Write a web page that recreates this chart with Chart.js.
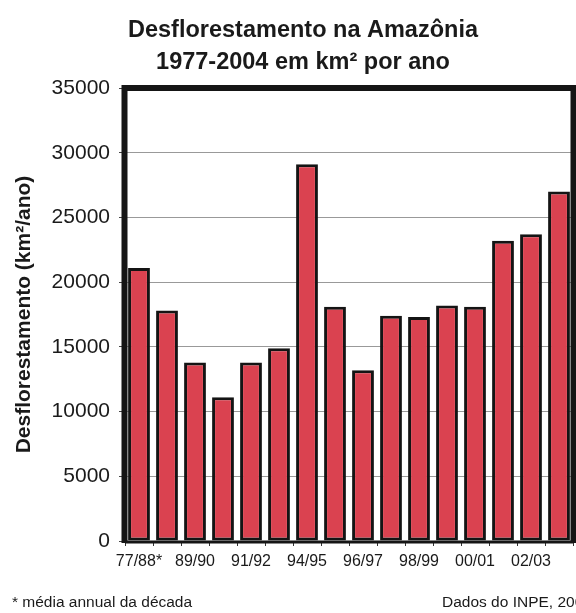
<!DOCTYPE html>
<html>
<head>
<meta charset="utf-8">
<script src="https://cdn.jsdelivr.net/npm/chart.js@4/dist/chart.umd.min.js"></script>
<style>
  html, body { margin: 0; padding: 0; background: #fff; }
  canvas { display: block; }
</style>
</head>
<body>
<canvas id="chart" width="576" height="613"></canvas>
<script>
// Annual deforestation in the Brazilian Amazon (km² per year)
const periods = ['77/88*', '88/89', '89/90', '90/91', '91/92', '92/94', '94/95', '95/96',
                 '96/97', '97/98', '98/99', '99/00', '00/01', '01/02', '02/03', '03/04'];
const deforestation = [21100, 17800, 13800, 11100, 13800, 14900, 29100, 18100,
                       13200, 17400, 17300, 18200, 18100, 23200, 23700, 27000];
const shownPeriodLabels = ['77/88*', '89/90', '91/92', '94/95', '96/97', '98/99', '00/01', '02/03'];
const yTickValues = [0, 5000, 10000, 15000, 20000, 25000, 30000, 35000];

const titleLines = ['Desflorestamento na Amazônia', '1977-2004 em km² por ano'];
const yAxisTitle = 'Desflorestamento (km²/ano)';
const footnoteLeft = '* média annual da década';
const footnoteRight = 'Dados do INPE, 2005';

const FONT = '"Liberation Sans", Arial, Helvetica, sans-serif';
const INK = '#1a1a1a';

// Heavy frame around the plot area (top, left, right) and the base line
const framePlugin = {
  id: 'plotFrame',
  afterDatasetsDraw(chart) {
    const { ctx, chartArea: a } = chart;
    ctx.save();
    ctx.strokeStyle = '#151515';
    ctx.lineJoin = 'miter';
    ctx.lineWidth = 6;
    ctx.beginPath();
    ctx.moveTo(a.left - 0.5, a.bottom + 2);
    ctx.lineTo(a.left - 0.5, a.top);
    ctx.lineTo(a.right + 0.5, a.top);
    ctx.lineTo(a.right + 0.5, a.bottom + 2);
    ctx.stroke();
    ctx.lineWidth = 3;
    ctx.beginPath();
    ctx.moveTo(a.left, a.bottom + 1);
    ctx.lineTo(a.right, a.bottom + 1);
    ctx.stroke();
    ctx.restore();
  }
};

// Two-line heading and the notes under the chart
const textPlugin = {
  id: 'headingAndNotes',
  afterDraw(chart) {
    const { ctx } = chart;
    ctx.save();
    ctx.fillStyle = INK;
    ctx.textAlign = 'center';
    ctx.textBaseline = 'alphabetic';
    ctx.font = 'bold 23.5px ' + FONT;
    ctx.fillText(titleLines[0], 303, 37);
    ctx.fillText(titleLines[1], 303, 69);
    ctx.font = '15.5px ' + FONT;
    ctx.textAlign = 'left';
    ctx.fillText(footnoteLeft, 12, 607);
    ctx.fillText(footnoteRight, 442, 607);
    ctx.restore();
  }
};

new Chart(document.getElementById('chart'), {
  type: 'bar',
  data: {
    labels: periods,
    datasets: [{
      data: deforestation,
      backgroundColor: '#da4250',
      borderColor: '#141414',
      borderWidth: 3,
      borderSkipped: false,
      barPercentage: 0.78,
      categoryPercentage: 1.0
    }]
  },
  options: {
    responsive: false,
    devicePixelRatio: 1,
    animation: false,
    layout: { padding: { top: 88, right: 3, left: 0, bottom: 0 } },
    plugins: {
      legend: { display: false },
      title: { display: false },
      tooltip: { enabled: false }
    },
    scales: {
      x: {
        offset: true,
        afterFit(scale) { scale.height = 72; },
        grid: {
          offset: true,
          drawOnChartArea: false,
          drawTicks: true,
          tickLength: 5,
          tickColor: '#333'
        },
        border: { display: false },
        ticks: {
          autoSkip: false,
          maxRotation: 0,
          minRotation: 0,
          padding: 6,
          color: INK,
          font: { family: FONT, size: 16 },
          callback(value, index) {
            const lbl = periods[index];
            return shownPeriodLabels.includes(lbl) ? lbl : '';
          }
        }
      },
      y: {
        min: 0,
        max: 35000,
        afterFit(scale) { scale.width = 125; },
        afterBuildTicks(scale) { scale.ticks = yTickValues.map(v => ({ value: v })); },
        grid: {
          color: '#999',
          lineWidth: 1,
          tickLength: 6,
          tickColor: '#444'
        },
        border: { display: false },
        ticks: {
          padding: 9,
          color: INK,
          font: { family: FONT, size: 21 },
          callback: v => String(v)
        },
        title: {
          display: true,
          text: yAxisTitle,
          color: INK,
          font: { family: FONT, size: 21, weight: 'bold' },
          padding: { top: 12, bottom: 0 }
        }
      }
    }
  },
  plugins: [framePlugin, textPlugin]
});
</script>
</body>
</html>
